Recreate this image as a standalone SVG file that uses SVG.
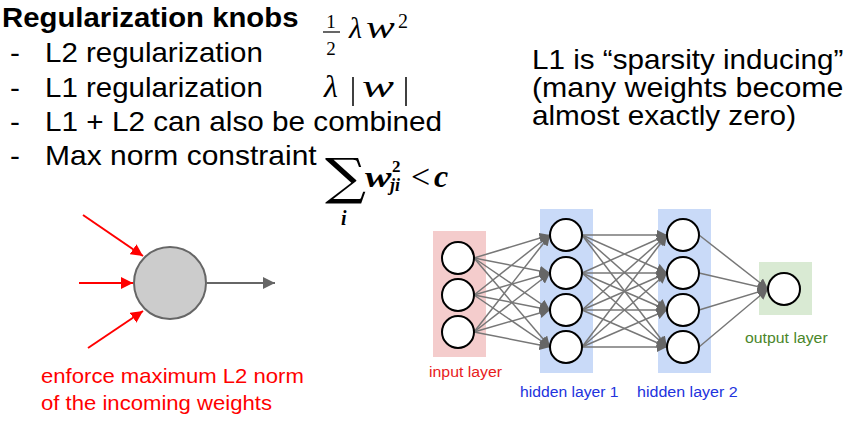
<svg xmlns="http://www.w3.org/2000/svg" width="845" height="443" viewBox="0 0 845 443">
<defs>
<style>
.sans{font-family:"Liberation Sans",Arial,sans-serif;}
.blk{fill:#000;}
.math{font-family:"Liberation Serif","DejaVu Serif",serif;fill:#000;}
.node{fill:#fff;stroke:#000;stroke-width:2;}
.edge{stroke:#777;stroke-width:1.5;fill:none;marker-end:url(#ga);}
.red{stroke:#f00;stroke-width:2;fill:none;marker-end:url(#ra);}
</style>
<marker id="ga" viewBox="0 0 10 10" refX="10" refY="5" markerWidth="7" markerHeight="7" markerUnits="strokeWidth" orient="auto"><path d="M0,0 L10,5 L0,10 z" fill="#666"/></marker>
<marker id="ra" viewBox="0 0 10 10" refX="10" refY="5" markerWidth="6" markerHeight="6" markerUnits="strokeWidth" orient="auto"><path d="M0,0 L10,5 L0,10 z" fill="#f00"/></marker>
<marker id="ga2" viewBox="0 0 10 10" refX="10" refY="5" markerWidth="6" markerHeight="6" markerUnits="strokeWidth" orient="auto"><path d="M0,0 L10,5 L0,10 z" fill="#666"/></marker>
</defs>
<rect width="845" height="443" fill="#fff"/>

<g id="title-text" class="sans blk">
<text transform="translate(2,27) scale(1.09,1)" font-size="27" font-weight="bold" textLength="272" lengthAdjust="spacingAndGlyphs">Regularization knobs</text>
<text transform="translate(10,62) scale(1.1,1)" font-size="27">-</text>
<text transform="translate(45,62) scale(1.1,1)" font-size="27" textLength="198" lengthAdjust="spacingAndGlyphs">L2 regularization</text>
<text transform="translate(10,97) scale(1.1,1)" font-size="27">-</text>
<text transform="translate(45,97) scale(1.1,1)" font-size="27" textLength="198" lengthAdjust="spacingAndGlyphs">L1 regularization</text>
<text transform="translate(10,131) scale(1.1,1)" font-size="27">-</text>
<text transform="translate(45,131) scale(1.1,1)" font-size="27" textLength="361" lengthAdjust="spacingAndGlyphs">L1 + L2 can also be combined</text>
<text transform="translate(10,165) scale(1.1,1)" font-size="27">-</text>
<text transform="translate(45,165) scale(1.1,1)" font-size="27" textLength="247" lengthAdjust="spacingAndGlyphs">Max norm constraint</text>
</g>

<g id="formula-l2" class="math">
<text x="331" y="28" font-size="19" text-anchor="middle">1</text>
<line x1="323" y1="32" x2="340" y2="32" stroke="#000" stroke-width="1.2"/>
<text x="331" y="55" font-size="19" text-anchor="middle">2</text>
<text x="349" y="38" font-size="30" font-style="italic">λ</text>
<text transform="translate(366,38) scale(1.35,1)" font-size="32" font-style="italic">w</text>
<text x="398" y="28" font-size="20">2</text>
</g>

<g id="formula-l1" class="math">
<text x="324" y="97" font-size="32" font-style="italic">λ</text>
<line x1="353" y1="77" x2="353" y2="106" stroke="#000" stroke-width="1.5"/>
<text transform="translate(362,97) scale(1.5,1)" font-size="32" font-style="italic">w</text>
<line x1="406" y1="77" x2="406" y2="106" stroke="#000" stroke-width="1.5"/>
</g>

<g id="formula-maxnorm" class="math">
<text transform="translate(325,194) scale(1.15,1)" font-size="50" font-family="DejaVu Serif">∑</text>
<text x="341" y="225" font-size="20" font-style="italic" font-weight="bold">i</text>
<text transform="translate(365,187) scale(1.32,1)" font-size="30" font-style="italic" font-weight="bold">w</text>
<text x="392" y="172" font-size="17" font-weight="bold">2</text>
<text x="390" y="191" font-size="18" font-style="italic" font-weight="bold">ji</text>
<text x="411" y="188" font-size="34">&lt;</text>
<text x="434" y="187" font-size="32" font-style="italic" font-weight="bold">c</text>
</g>

<g id="sparsity-note" class="sans blk">
<text transform="translate(532,69) scale(1.1,1)" font-size="27" textLength="283" lengthAdjust="spacingAndGlyphs">L1 is “sparsity inducing”</text>
<text transform="translate(532,97) scale(1.1,1)" font-size="27" textLength="283" lengthAdjust="spacingAndGlyphs">(many weights become</text>
<text transform="translate(532,125) scale(1.1,1)" font-size="27">almost exactly zero)</text>
</g>

<g id="neuron-connectors">
<line class="red" x1="83" y1="215" x2="143" y2="256"/>
<line class="red" x1="79" y1="283" x2="133" y2="283"/>
<line class="red" x1="88" y1="348" x2="143" y2="311"/>
<line x1="207" y1="283" x2="275" y2="283" stroke="#666" stroke-width="2" marker-end="url(#ga2)"/>
</g>
<g id="neuron">
<circle cx="170" cy="283" r="36" fill="#ccc" stroke="#666" stroke-width="2"/>
</g>
<g id="neuron-caption" class="sans" fill="#f00">
<text transform="translate(41,383) scale(1.1,1)" font-size="20" textLength="239" lengthAdjust="spacingAndGlyphs">enforce maximum L2 norm</text>
<text transform="translate(41,410) scale(1.1,1)" font-size="20" textLength="210" lengthAdjust="spacingAndGlyphs">of the incoming weights</text>
</g>

<g id="layer-input">
<rect x="433" y="231" width="53" height="126" fill="#f4cccc"/>
<text transform="translate(429,377) scale(1.06,1)" font-size="15" class="sans" fill="#e8201c" textLength="69" lengthAdjust="spacingAndGlyphs">input layer</text>
</g>
<g id="layer-hidden1">
<rect x="540" y="209" width="53" height="164" fill="#c9daf8"/>
<text transform="translate(520,397) scale(1.06,1)" font-size="15" class="sans" fill="#2233dd" textLength="93" lengthAdjust="spacingAndGlyphs">hidden layer 1</text>
</g>
<g id="layer-hidden2">
<rect x="658" y="209" width="53" height="164" fill="#c9daf8"/>
<text transform="translate(637,397) scale(1.06,1)" font-size="15" class="sans" fill="#2233dd" textLength="95" lengthAdjust="spacingAndGlyphs">hidden layer 2</text>
</g>
<g id="layer-output">
<rect x="759" y="262" width="53" height="53" fill="#d9ead3"/>
<text transform="translate(745,343) scale(1.06,1)" font-size="15" class="sans" fill="#4a862a" textLength="78" lengthAdjust="spacingAndGlyphs">output layer</text>
</g>

<g id="network-connectors">
<line class="edge" x1="474" y1="258" x2="550" y2="235"/>
<line class="edge" x1="474" y1="258" x2="550" y2="273"/>
<line class="edge" x1="474" y1="258" x2="550" y2="310"/>
<line class="edge" x1="474" y1="258" x2="550" y2="347"/>
<line class="edge" x1="474" y1="295" x2="550" y2="235"/>
<line class="edge" x1="474" y1="295" x2="550" y2="273"/>
<line class="edge" x1="474" y1="295" x2="550" y2="310"/>
<line class="edge" x1="474" y1="295" x2="550" y2="347"/>
<line class="edge" x1="474" y1="332" x2="550" y2="235"/>
<line class="edge" x1="474" y1="332" x2="550" y2="273"/>
<line class="edge" x1="474" y1="332" x2="550" y2="310"/>
<line class="edge" x1="474" y1="332" x2="550" y2="347"/>
<line class="edge" x1="582" y1="235" x2="667" y2="235"/>
<line class="edge" x1="582" y1="235" x2="667" y2="273"/>
<line class="edge" x1="582" y1="235" x2="667" y2="310"/>
<line class="edge" x1="582" y1="235" x2="667" y2="347"/>
<line class="edge" x1="582" y1="273" x2="667" y2="235"/>
<line class="edge" x1="582" y1="273" x2="667" y2="273"/>
<line class="edge" x1="582" y1="273" x2="667" y2="310"/>
<line class="edge" x1="582" y1="273" x2="667" y2="347"/>
<line class="edge" x1="582" y1="310" x2="667" y2="235"/>
<line class="edge" x1="582" y1="310" x2="667" y2="273"/>
<line class="edge" x1="582" y1="310" x2="667" y2="310"/>
<line class="edge" x1="582" y1="310" x2="667" y2="347"/>
<line class="edge" x1="582" y1="347" x2="667" y2="235"/>
<line class="edge" x1="582" y1="347" x2="667" y2="273"/>
<line class="edge" x1="582" y1="347" x2="667" y2="310"/>
<line class="edge" x1="582" y1="347" x2="667" y2="347"/>
<line class="edge" x1="699" y1="235" x2="768" y2="289"/>
<line class="edge" x1="699" y1="273" x2="768" y2="289"/>
<line class="edge" x1="699" y1="310" x2="768" y2="289"/>
<line class="edge" x1="699" y1="347" x2="768" y2="289"/>
</g>

<g id="input-nodes">
<circle class="node" cx="458" cy="258" r="16"/>
<circle class="node" cx="458" cy="295" r="16"/>
<circle class="node" cx="458" cy="332" r="16"/>
</g>
<g id="hidden1-nodes">
<circle class="node" cx="566" cy="235" r="16"/>
<circle class="node" cx="566" cy="273" r="16"/>
<circle class="node" cx="566" cy="310" r="16"/>
<circle class="node" cx="566" cy="347" r="16"/>
</g>
<g id="hidden2-nodes">
<circle class="node" cx="683" cy="235" r="16"/>
<circle class="node" cx="683" cy="273" r="16"/>
<circle class="node" cx="683" cy="310" r="16"/>
<circle class="node" cx="683" cy="347" r="16"/>
</g>
<g id="output-node">
<circle class="node" cx="784" cy="289" r="16"/>
</g>
</svg>
